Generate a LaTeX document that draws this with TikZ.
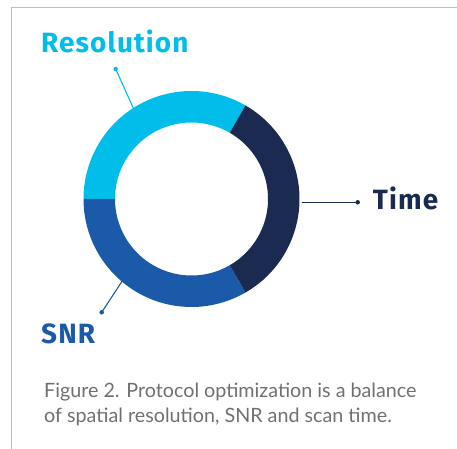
\documentclass[tikz,border=0pt]{standalone}
\usepackage{fontspec}
\usetikzlibrary{calc}
\newfontfamily\labelfont[LetterSpace=4]{Fira Sans}
\newfontfamily\capfont{Lato}
\definecolor{rescol}{HTML}{00BDE9}
\definecolor{timecol}{HTML}{1B2A50}
\definecolor{snrcol}{HTML}{1B5AA8}
\definecolor{capcol}{HTML}{707072}
\definecolor{framecol}{HTML}{BDBDC0}
\begin{document}
\begin{tikzpicture}[x=1bp,y=1bp,
  lbl/.style={anchor=base west,inner sep=0pt,font=\labelfont\bfseries\fontsize{28}{30}\selectfont},
  captext/.style={anchor=base west,inner sep=0pt,text=capcol,font=\capfont\fontsize{19.8}{24}\selectfont},
  leader/.style={line width=1.1bp},
  dotnode/.style={circle,inner sep=0pt,minimum size=4.5bp}]
\useasboundingbox (0,0) rectangle (457,449);
% frame
\draw[framecol,line width=1.6bp] (11.5,0) -- (11.5,441.5) -- (457,441.5);
% ring
\coordinate (c) at (191.5,250);
\def\Ro{108}\def\Ri{76.5}
\fill[rescol] ($(c)+(60:\Ro)$) arc[start angle=60,end angle=180,radius=\Ro] -- ($(c)+(180:\Ri)$) arc[start angle=180,end angle=60,radius=\Ri] -- cycle;
\fill[snrcol] ($(c)+(180:\Ro)$) arc[start angle=180,end angle=300,radius=\Ro] -- ($(c)+(300:\Ri)$) arc[start angle=300,end angle=180,radius=\Ri] -- cycle;
\fill[timecol] ($(c)+(-60:\Ro)$) arc[start angle=-60,end angle=60,radius=\Ro] -- ($(c)+(60:\Ri)$) arc[start angle=60,end angle=-60,radius=\Ri] -- cycle;
% leader anchors on ring
\coordinate (resring) at ($(c)+(122.7:107)$);
\coordinate (snrring) at ($(c)+(229.8:107)$);
\coordinate (timering) at (301.5,246.7);
% dots
\node[dotnode,fill=rescol] (resdot) at (115.7,380) {};
\node[dotnode,fill=snrcol] (snrdot) at (101.7,136.7) {};
\node[dotnode,fill=timecol] (timedot) at (357.7,246.7) {};
\draw[leader,rescol] (resdot.center) -- (resring);
\draw[leader,snrcol] (snrdot.center) -- (snrring);
\draw[leader,timecol] (timering) -- (timedot.center);
% labels
\node[lbl,text=rescol] (res) at (41,396) {Resolution};
\node[lbl,text=snrcol] (snr) at (41,105) {SNR};
\node[lbl,text=timecol] (time) at (372.7,239) {Time};
% caption
\node[captext] (cap1) at (44,51) {Figure 2. Protocol optimization is a balance};
\node[captext] (cap2) at (44,26) {of spatial resolution, SNR and scan time.};
\end{tikzpicture}
\end{document}
